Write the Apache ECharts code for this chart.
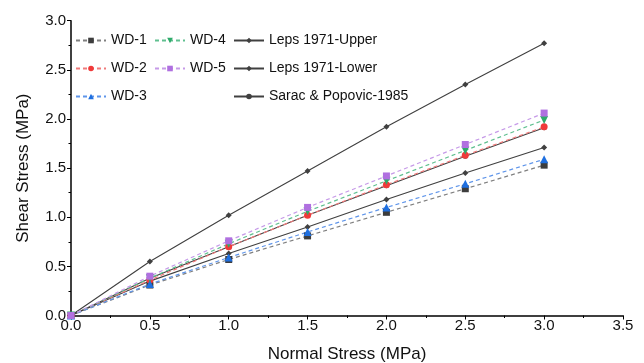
<!DOCTYPE html>
<html><head><meta charset="utf-8">
<script src="https://cdn.jsdelivr.net/npm/echarts@6/dist/echarts.min.js"></script>
<style>html,body{margin:0;padding:0;background:#fff}#c{width:644px;height:363px}</style>
</head><body><div id="c"></div>
<script>
const normalStress = [0, 0.5, 1.0, 1.5, 2.0, 2.5, 3.0];
const wd1 = [0, 0.31, 0.57, 0.81, 1.05, 1.29, 1.53];
const wd2 = [0, 0.36, 0.70, 1.02, 1.33, 1.63, 1.92];
const wd3 = [0, 0.32, 0.59, 0.85, 1.10, 1.34, 1.59];
const wd4 = [0, 0.38, 0.73, 1.06, 1.37, 1.68, 1.99];
const wd5 = [0, 0.40, 0.76, 1.10, 1.42, 1.74, 2.06];
const lepsUpper = [0, 0.55, 1.02, 1.47, 1.92, 2.35, 2.77];
const lepsLower = [0, 0.35, 0.63, 0.90, 1.18, 1.45, 1.71];
const sarac = [0, 0.38, 0.70, 1.02, 1.32, 1.62, 1.91];

const pairs = ys => normalStress.map((x, i) => [x, ys[i]]);
const FONT = 'Liberation Sans, Arial, sans-serif';

function wdSeries(name, data, color, lineColor, symbol, size, rotate) {
  return {
    name, type: 'line', data: pairs(data), symbol, symbolSize: size, symbolRotate: rotate || 0,
    itemStyle: { color }, lineStyle: { color: lineColor, type: [4, 3], width: 1.2 },
    z: 3
  };
}
function refSeries(name, data, symbol, size) {
  return {
    name, type: 'line', data: pairs(data), symbol, symbolSize: size,
    itemStyle: { color: '#404040' }, lineStyle: { color: '#404040', width: 1.1 },
    z: 2
  };
}

const chart = echarts.init(document.getElementById('c'));
const legendCommon = {
  orient: 'vertical', itemWidth: 30, itemHeight: 7, itemGap: 12, padding: 0,
  textStyle: { fontFamily: FONT, fontSize: 14, color: '#111', lineHeight: 16 }
};
chart.setOption({
  animation: false,
  backgroundColor: '#fff',
  grid: { left: 71, right: 21, top: 20.7, bottom: 47.5, outerBoundsMode: 'none', containLabel: false },
  legend: [
    Object.assign({ left: 75, top: 32.5, data: ['WD-1', 'WD-2', 'WD-3'] }, legendCommon),
    Object.assign({ left: 154, top: 32.5, data: ['WD-4', 'WD-5'] }, legendCommon),
    Object.assign({ left: 233, top: 32.5, data: ['Leps 1971-Upper', 'Leps 1971-Lower', 'Sarac & Popovic-1985'] }, legendCommon)
  ],
  xAxis: {
    type: 'value', min: 0, max: 3.5, interval: 0.5,
    name: 'Normal Stress (MPa)', nameLocation: 'middle', nameGap: 30,
    nameTextStyle: { fontFamily: FONT, fontSize: 17, color: '#111' },
    axisLine: { show: true, lineStyle: { color: '#000', width: 1.5 } },
    axisTick: { show: true, length: 4, lineStyle: { color: '#000' } },
    minorTick: { show: true, splitNumber: 2, length: 2.5, lineStyle: { color: '#000' } },
    splitLine: { show: false },
    axisLabel: { fontFamily: FONT, fontSize: 15, color: '#111', margin: 3, formatter: v => v.toFixed(1) }
  },
  yAxis: {
    type: 'value', min: 0, max: 3.0, interval: 0.5,
    name: 'Shear Stress (MPa)', nameLocation: 'middle', nameGap: 39,
    nameTextStyle: { fontFamily: FONT, fontSize: 17, color: '#111' },
    axisLine: { show: true, lineStyle: { color: '#000', width: 1.5 } },
    axisTick: { show: true, length: 4, lineStyle: { color: '#000' } },
    minorTick: { show: true, splitNumber: 2, length: 2.5, lineStyle: { color: '#000' } },
    splitLine: { show: false },
    axisLabel: { fontFamily: FONT, fontSize: 15, color: '#111', margin: 5, formatter: v => v.toFixed(1) }
  },
  series: [
    wdSeries('WD-1', wd1, '#3d3d3d', '#808080', 'rect', 7),
    wdSeries('WD-2', wd2, '#f03a3a', '#f07a7a', 'circle', 7),
    wdSeries('WD-3', wd3, '#1e6fe0', '#5f95ea', 'triangle', 8),
    wdSeries('WD-4', wd4, '#2eaa6a', '#60c090', 'triangle', 8, 180),
    wdSeries('WD-5', wd5, '#b070e0', '#c69ae8', 'rect', 7),
    refSeries('Leps 1971-Upper', lepsUpper, 'diamond', 6),
    refSeries('Leps 1971-Lower', lepsLower, 'diamond', 6),
    refSeries('Sarac & Popovic-1985', sarac, 'circle', 5)
  ]
});
</script></body></html>
